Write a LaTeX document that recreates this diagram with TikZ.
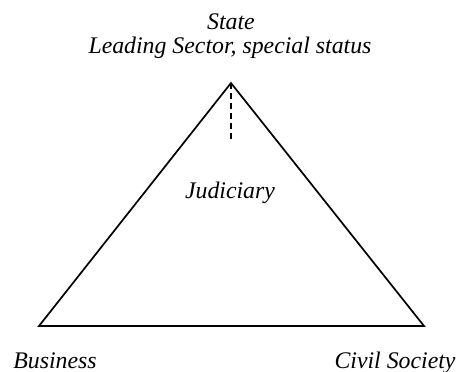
\documentclass[tikz,border=0pt]{standalone}
\usepackage{fontspec}
\setmainfont{Liberation Serif}
\begin{document}
\begin{tikzpicture}[x=1pt,y=-1pt,
  lbl/.style={font=\fontsize{23.8}{27}\selectfont\itshape, inner sep=0pt, anchor=base},
  edge/.style={line width=1.7pt, line join=miter}]
\useasboundingbox (0,0) rectangle (459,372);
% corners of the triangle
\coordinate (top) at (231,83);
\coordinate (bl) at (39,326);
\coordinate (br) at (424,326);
\coordinate (dashend) at (231,140);
\draw[edge] (top) -- (br) -- (bl) -- cycle;
\draw[line width=1.7pt, dash pattern=on 6pt off 4pt] (top) -- (dashend);
% labels
\node[lbl] (state) at (231,29) {State};
\node[lbl] (lead) at (230,53) {Leading Sector, special status};
\node[lbl] (jud) at (230,198) {Judiciary};
\node[lbl] (bus) at (55,368) {Business};
\node[lbl] (civ) at (395,368) {Civil Society};
\end{tikzpicture}
\end{document}
